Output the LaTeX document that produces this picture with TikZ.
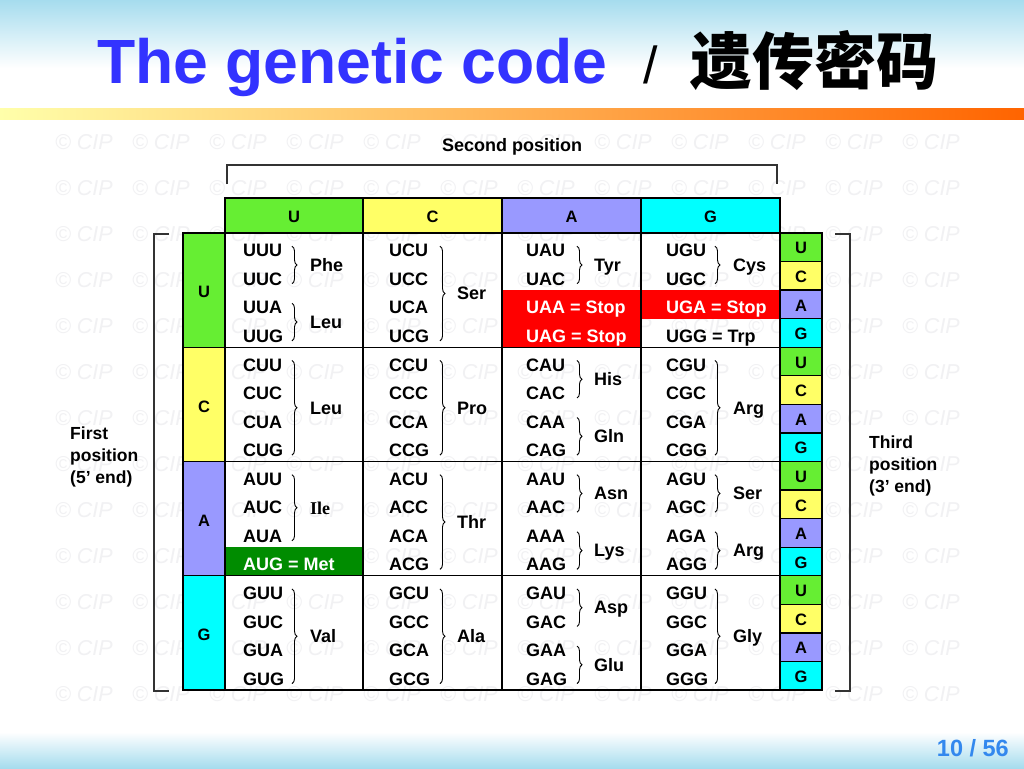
\documentclass[tikz,border=0pt]{standalone}
\usepackage{fontspec}
\setmainfont{Liberation Sans}
\newfontfamily\cjk{Noto Sans CJK SC}
\newfontfamily\serifile{Liberation Serif}
\usetikzlibrary{decorations.pathreplacing}
\definecolor{hdgreen}{RGB}{102,238,51}
\definecolor{hdyellow}{RGB}{255,255,102}
\definecolor{hdblue}{RGB}{153,153,255}
\definecolor{hdcyan}{RGB}{0,255,255}
\definecolor{stopred}{RGB}{255,0,0}
\definecolor{metgreen}{RGB}{0,140,0}
\definecolor{titleblue}{RGB}{51,51,255}
\definecolor{pageblue}{RGB}{51,136,238}
\definecolor{skyblue}{RGB}{166,220,238}
\definecolor{wmgray}{RGB}{241,241,243}
\definecolor{barleft}{RGB}{255,255,170}
\definecolor{barmid}{RGB}{255,205,110}
\definecolor{barright}{RGB}{255,100,0}
\newcommand\codonfont{\fontsize{18}{21}\selectfont\bfseries}
\newcommand\headfont{\fontsize{16.5}{20}\selectfont\bfseries}
\newcommand\sidefont{\fontsize{17.5}{22}\selectfont\bfseries}
\newcommand\secfont{\fontsize{18}{22}\selectfont\bfseries}
\newcommand\wmfont{\fontsize{21.5}{24}\selectfont\itshape}
\newcommand\titlefont{\fontsize{62.5}{70}\selectfont\bfseries}
\newcommand\slashfont{\fontsize{52}{60}\selectfont}
\newcommand\cjktitle{\fontsize{62}{70}\selectfont\cjk\bfseries}
\newcommand\ilefont{\fontsize{18}{21}\selectfont\serifile\bfseries}
\newcommand\pagefont{\fontsize{23.5}{26}\selectfont\bfseries}
\newcommand\codtext[1]{\ifcsname ov#1\endcsname\csname ov#1\endcsname\else#1\fi}
\expandafter\def\csname ovUAA\endcsname{\textcolor{white}{UAA = Stop}}
\expandafter\def\csname ovUAG\endcsname{\textcolor{white}{UAG = Stop}}
\expandafter\def\csname ovUGA\endcsname{\textcolor{white}{UGA = Stop}}
\expandafter\def\csname ovUGG\endcsname{UGG = Trp}
\expandafter\def\csname ovAUG\endcsname{\textcolor{white}{AUG = Met}}
\tikzset{
  tline/.style={line width=1.3pt, black},
  brk/.style={line width=1.3pt, black!80},
  cod/.style={anchor=base west, inner sep=0pt, font=\codonfont},
  lbl/.style={inner sep=0pt, font=\headfont},
  wm/.style={inner sep=0pt, text=wmgray, font=\wmfont},
  brc/.style={decorate, decoration={brace, amplitude=5pt}, line width=0.9pt},
}
\begin{document}
\begin{tikzpicture}[x=1pt,y=-1pt]
\useasboundingbox (0,0) rectangle (1024,768);
\fill[white] (0,0) rectangle (1024,768);
% background gradients
\shade[top color=skyblue, bottom color=white] (0,0) rectangle (1024,68);
\shade[top color=white, bottom color=skyblue] (0,732) rectangle (1024,768);
\shade[left color=barleft, middle color=barmid, right color=barright] (0,108) rectangle (1024,119);
% watermark
\foreach \i in {0,...,11}{
  \foreach \j in {0,...,12}{
    \pgfmathsetmacro\wx{84+77*\i}
    \pgfmathsetmacro\wy{142+46*\j}
    \node[wm] (wm\i-\j) at (\wx,\wy) {© CIP};
  }
}
% title
\node[anchor=base west, inner sep=0pt, text=titleblue, font=\titlefont] (title) at (97,83) {The genetic code};
\node[anchor=base, inner sep=0pt, font=\slashfont] (slash) at (651,83) {/};
\node[anchor=base west, inner sep=0pt, font=\cjktitle] (cn) at (690,84) {遗传密码};
% page number
\node[anchor=base east, inner sep=0pt, text=pageblue, font=\pagefont] (page) at (1009,756) {10 / 56};
\def\subh{28.5625}
\def\rowh{114.25}
% header fills
\foreach \c/\col in {0/hdgreen,1/hdyellow,2/hdblue,3/hdcyan}{
  \pgfmathsetmacro\xa{{225,363,502,641}[\c]}
  \pgfmathsetmacro\xb{{363,502,641,780}[\c]}
  \fill[\col] (\xa,198) rectangle (\xb,233);
  \pgfmathsetmacro\ya{233+\rowh*\c}
  \pgfmathsetmacro\yb{233+\rowh*(\c+1)}
  \fill[\col] (183,\ya) rectangle (225,\yb);
  \foreach \r in {0,...,3}{
    \pgfmathsetmacro\za{233+\rowh*\r+\subh*\c}
    \pgfmathsetmacro\zb{233+\rowh*\r+\subh*(\c+1)}
    \fill[\col] (780,\za) rectangle (822,\zb);
  }
}
% special fills
\pgfmathsetmacro\ya{233+2*\subh}
\pgfmathsetmacro\yb{233+3*\subh}
\fill[stopred] (502,\ya) rectangle (641,\yb);
\fill[stopred] (641,\ya) rectangle (780,\yb);
\pgfmathsetmacro\ya{233+3*\subh}
\fill[stopred] (502,\ya) rectangle (641,347.25);
\pgfmathsetmacro\ya{233+2*\rowh+3*\subh}
\pgfmathsetmacro\yb{233+3*\rowh}
\fill[metgreen] (225,\ya) rectangle (363,\yb);
% grid lines
\draw[tline] (225,198) rectangle (780,690);
\draw[tline] (183,233) rectangle (822,690);
\draw[tline] (225,233) -- (225,690);
\draw[tline] (780,233) -- (780,690);
\foreach \x in {363,502,641}{\draw[tline] (\x,198) -- (\x,690);}
\foreach \r in {1,2,3}{
  \pgfmathsetmacro\ya{233+\rowh*\r}
  \draw[tline] (183,\ya) -- (822,\ya);
}
\foreach \k in {1,...,15}{
  \pgfmathsetmacro\ya{233+\subh*\k}
  \draw[tline] (780,\ya) -- (822,\ya);
}
% header letters
\foreach \c/\C in {0/U,1/C,2/A,3/G}{
  \pgfmathsetmacro\xc{{294,432.5,571.5,710.5}[\c]}
  \node[lbl] (h\C) at (\xc,216.5) {\C};
  \pgfmathsetmacro\yc{233+\rowh*\c+\rowh/2+2}
  \node[lbl] (f\C) at (204,\yc) {\C};
  \foreach \r/\R in {0/U,1/C,2/A,3/G}{
    \pgfmathsetmacro\yd{233+\rowh*\r+\subh*\c+\subh/2+1}
    \node[lbl] (t\R\C) at (801,\yd) {\C};
  }
}
% codons
\foreach \r/\R in {0/U,1/C,2/A,3/G}{
  \foreach \c/\C/\xo in {0/U/243,1/C/389,2/A/526,3/G/666}{
    \foreach \k/\K in {0/U,1/C,2/A,3/G}{
      \pgfmathsetmacro\yy{233+\rowh*\r+\subh*\k+\subh/2+9.5}
      \node[cod] (c\R\C\K) at (\xo,\yy) {\codtext{\R\C\K}};
    }
  }
}
% braces and amino acids
\foreach \r/\c/\a/\b/\n in {0/0/0/1/Phe, 0/0/2/3/Leu, 0/1/0/3/Ser, 0/2/0/1/Tyr, 0/3/0/1/Cys,
  1/0/0/3/Leu, 1/1/0/3/Pro, 1/2/0/1/His, 1/2/2/3/Gln, 1/3/0/3/Arg,
  2/0/0/2/{\ilefont Ile}, 2/1/0/3/Thr, 2/2/0/1/Asn, 2/2/2/3/Lys, 2/3/0/1/Ser, 2/3/2/3/Arg,
  3/0/0/3/Val, 3/1/0/3/Ala, 3/2/0/1/Asp, 3/2/2/3/Glu, 3/3/0/3/Gly}{
  \pgfmathsetmacro\bx{{292,440,577,715}[\c]}
  \pgfmathsetmacro\nx{{310,457,594,733}[\c]}
  \pgfmathsetmacro\ytop{233+\rowh*\r+\subh*\a+\subh/2+3.4-4.5}
  \pgfmathsetmacro\ybot{233+\rowh*\r+\subh*\b+\subh/2+3.4+4.5}
  \pgfmathsetmacro\ymid{(\ytop+\ybot)/2+6.25}
  \draw[brc] (\bx,\ytop) -- (\bx,\ybot);
  \node[cod] (aa\r\c\a) at (\nx,\ymid) {\n};
}
% position labels and brackets
\node[lbl, font=\secfont] (second) at (512,147) {Second position};
\draw[brk] (227,184) -- (227,165) -- (777,165) -- (777,184);
\draw[brk] (169,234) -- (154,234) -- (154,691) -- (169,691);
\draw[brk] (835,234) -- (850,234) -- (850,691) -- (835,691);
\node[anchor=north west, inner sep=0pt, align=left, font=\sidefont] (first) at (70,426.5) {First\\position\\(5’ end)};
\node[anchor=north west, inner sep=0pt, align=left, font=\sidefont] (third) at (869,435.5) {Third\\position\\(3’ end)};
\end{tikzpicture}
\end{document}
